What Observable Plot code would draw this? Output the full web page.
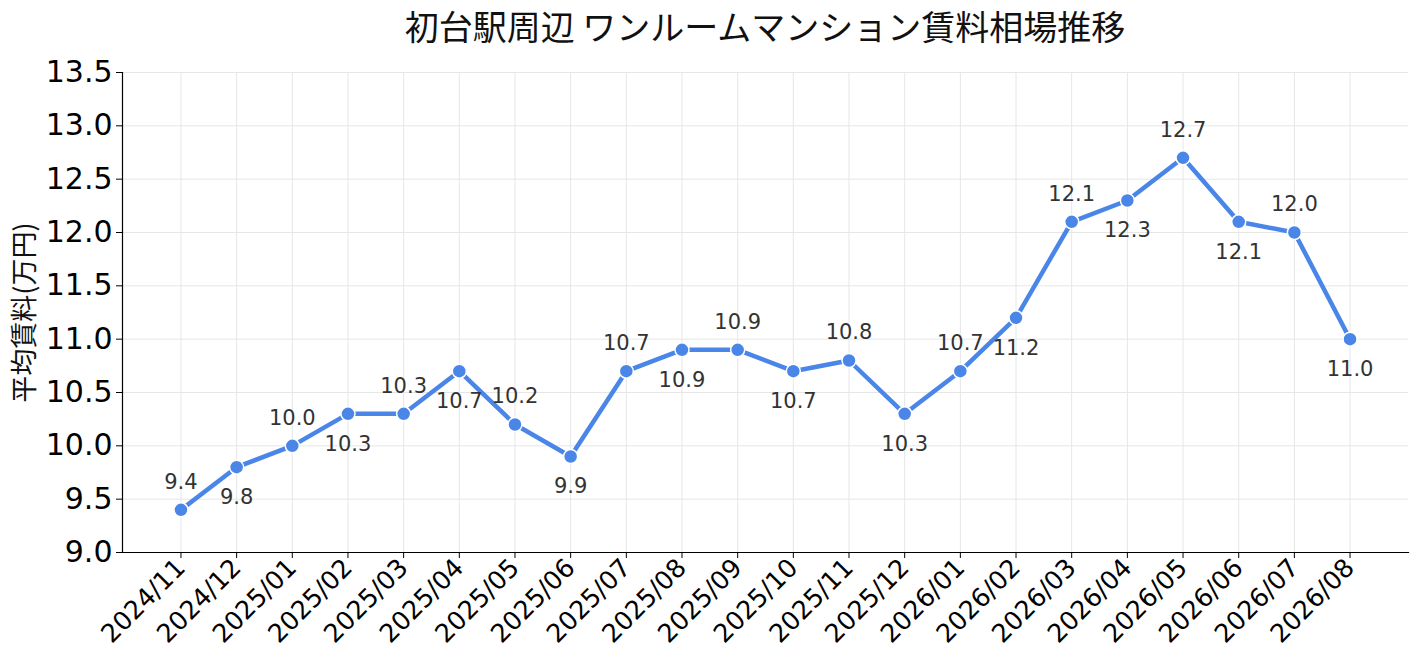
<!DOCTYPE html>
<html><head><meta charset="utf-8">
<script src="https://cdn.jsdelivr.net/npm/d3@7"></script>
<script src="https://cdn.jsdelivr.net/npm/@observablehq/plot@0.6"></script>
<style>
body{margin:0;background:#fff;font-family:"Noto Sans CJK JP",sans-serif;position:relative;}
#title{position:absolute;left:0;top:0;width:1418px;height:50px;box-sizing:border-box;padding-left:112px;text-align:center;font-size:34px;line-height:52px;color:#111;white-space:nowrap;z-index:1;}
</style></head>
<body>
<div id="title">初台駅周辺 ワンルームマンション賃料相場推移</div>
<div id="chart"></div>
<script>
const months = ["2024/11","2024/12","2025/01","2025/02","2025/03","2025/04","2025/05","2025/06","2025/07","2025/08","2025/09","2025/10","2025/11","2025/12","2026/01","2026/02","2026/03","2026/04","2026/05","2026/06","2026/07","2026/08"];
const rents = [9.4,9.8,10.0,10.3,10.3,10.7,10.2,9.9,10.7,10.9,10.9,10.7,10.8,10.3,10.7,11.2,12.1,12.3,12.7,12.1,12.0,11.0];
const yTicks = [9.0,9.5,10.0,10.5,11.0,11.5,12.0,12.5,13.0,13.5];
const yLabel = "平均賃料(万円)";

const data = months.map((m,i)=>({month:m, rent:rents[i], i}));
const above = data.filter(d=>d.i%2===0);
const below = data.filter(d=>d.i%2===1);
const color = "#4a86e8";
const numFont = "'DejaVu Sans', 'Noto Sans CJK JP', sans-serif";

const chart = Plot.plot({
  width:1418, height:671,
  marginTop:72, marginBottom:119, marginLeft:122, marginRight:10,
  style:{fontFamily:"'Noto Sans CJK JP', sans-serif", background:"transparent"},
  x:{type:"point", domain:months, padding:1.05, round:false},
  y:{domain:[9.0,13.5]},
  marks:[
    Plot.gridX(months,{stroke:"#e6e6e6", strokeOpacity:1, strokeWidth:1}),
    Plot.gridY(yTicks,{stroke:"#e6e6e6", strokeOpacity:1, strokeWidth:1}),
    Plot.axisY(yTicks,{tickFormat:d=>d.toFixed(1), fontSize:30, fontFamily:numFont, tickSize:6, tickPadding:4, stroke:"#000", fill:"#000", label:null}),
    Plot.text([yLabel],{frameAnchor:"left", dx:-97, rotate:-90, textAnchor:"middle", fontSize:27, fill:"#111"}),
    Plot.axisX({tickRotate:-45, fontSize:25.5, fontFamily:numFont, tickSize:6, tickPadding:5, stroke:"#000", fill:"#000", label:null}),
    Plot.frame({anchor:"left", stroke:"#000", strokeWidth:1.2}),
    Plot.frame({anchor:"bottom", stroke:"#000", strokeWidth:1.2}),
    Plot.line(data,{x:"month", y:"rent", stroke:color, strokeWidth:4.5, strokeLinejoin:"round"}),
    Plot.dot(data,{x:"month", y:"rent", r:7, fill:color, stroke:"#fff", strokeWidth:1.5}),
    Plot.text(above,{x:"month", y:"rent", text:d=>d.rent.toFixed(1), dy:-28, fontSize:21, fontFamily:numFont, fill:"#333"}),
    Plot.text(below,{x:"month", y:"rent", text:d=>d.rent.toFixed(1), dy:30, fontSize:21, fontFamily:numFont, fill:"#333"})
  ]
});
document.getElementById("chart").appendChild(chart);
</script>
</body></html>
